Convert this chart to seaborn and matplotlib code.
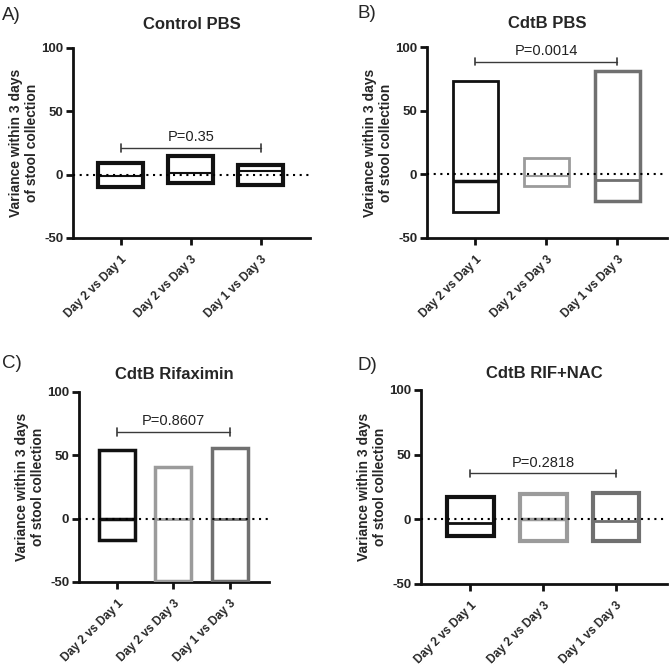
import matplotlib
matplotlib.use("Agg")
import matplotlib.pyplot as plt
import seaborn as sns
import numpy as np
import pandas as pd

sns.set_style("ticks")
plt.rcParams["font.family"] = ["Liberation Sans", "DejaVu Sans"]
plt.rcParams["axes.unicode_minus"] = False

# ---- data ----
comparisons = ["Day 2 vs Day 1", "Day 2 vs Day 3", "Day 1 vs Day 3"]
panel_titles = ["Control PBS", "CdtB PBS", "CdtB Rifaximin", "CdtB RIF+NAC"]
panel_letters = ["A)", "B)", "C)", "D)"]
p_values = ["P=0.35", "P=0.0014", "P=0.8607", "P=0.2818"]
bracket_y = [21, 88.5, 68.5, 35.5]

ctrl_min = [-10, -6.5, -8.5]
ctrl_med = [-1, 1.5, 2.5]
ctrl_max = [9, 15, 8]

pbs_min = [-29.5, -9, -21]
pbs_med = [-5, -1, -4.5]
pbs_max = [73.5, 12.5, 81.5]

rif_min = [-17, -49, -49]
rif_med = [-0.5, 0, 0]
rif_max = [54, 41, 56]

nac_min = [-13, -17, -17]
nac_med = [-2.5, 0, -1]
nac_max = [17, 19.5, 20]

mins = [ctrl_min, pbs_min, rif_min, nac_min]
meds = [ctrl_med, pbs_med, rif_med, nac_med]
maxs = [ctrl_max, pbs_max, rif_max, nac_max]

black, light, mid = "#111111", "#9b9b9b", "#707070"
edge_colors = [[black, black, black], [black, light, mid],
               [black, light, mid], [black, light, mid]]
edge_widths = [[3, 3, 3], [2, 2, 2.5], [2.5, 2.5, 2.5], [3, 3, 3]]
median_widths = [[1.5, 1.5, 1.5], [2.5, 1.5, 2], [2.5, 2, 2], [2, 2.5, 2]]

# axes rectangles in figure fractions (669 px square)
W = 669
rects = [(73 / W, 1 - 238 / W, 237 / W, 190 / W),
         (427 / W, 1 - 238 / W, 240 / W, 191 / W),
         (79 / W, 1 - 582 / W, 190 / W, 190 / W),
         (421 / W, 1 - 584 / W, 246 / W, 194 / W)]
title_pads = [14, 14, 9, 9]
letter_pos = [(2 / W, 1 - 15 / W), (358 / W, 1 - 13 / W),
              (2 / W, 1 - 363 / W), (358 / W, 1 - 366 / W)]

fig = plt.figure(figsize=(6.69, 6.69), dpi=100)

for i in range(4):
    ax = fig.add_axes(rects[i])
    df = pd.DataFrame({"comparison": comparisons,
                       "span": np.array(maxs[i]) - np.array(mins[i]),
                       "low": mins[i]})
    sns.barplot(data=df, x="comparison", y="span", order=comparisons,
                bottom=df["low"].values, width=0.64, color="white",
                errorbar=None, ax=ax)
    for patch, ec, lw in zip(ax.patches, edge_colors[i], edge_widths[i]):
        patch.set_edgecolor(ec)
        patch.set_linewidth(lw)
        patch.set_facecolor("none")
        patch.set_zorder(3)
    pos = np.arange(len(comparisons))
    for x, m, ec, lw in zip(pos, meds[i], edge_colors[i], median_widths[i]):
        ax.hlines(m, x - 0.32, x + 0.32, colors=ec, linewidth=lw, zorder=3)

    ax.axhline(0, color="black", linestyle=(0, (1, 2.2)), linewidth=1.5, zorder=4)

    # significance bracket
    by = bracket_y[i]
    ax.plot([0, 2], [by, by], color="#3a3a3a", linewidth=1, zorder=4)
    ax.plot([0, 0], [by - 3, by + 3], color="#3a3a3a", linewidth=1.2, zorder=4)
    ax.plot([2, 2], [by - 3, by + 3], color="#3a3a3a", linewidth=1.2, zorder=4)
    ax.text(1, by + 3, p_values[i], ha="center", va="bottom", fontsize=10.5,
            color="#222222")

    ax.set_ylim(-50, 100)
    ax.set_xlim(-0.68, 2.7)
    ax.set_yticks([-50, 0, 50, 100])
    ax.set_yticklabels(["-50", "0", "50", "100"], fontweight="bold", fontsize=9.5)
    ax.set_xticks(pos)
    ax.set_xticklabels(comparisons, rotation=45, ha="right",
                       rotation_mode="anchor", fontweight="bold", fontsize=8.5)
    ax.set_xlabel("")
    ax.set_ylabel("Variance within 3 days\nof stool collection",
                  fontweight="bold", fontsize=10, labelpad=1.5)
    ax.set_title(panel_titles[i], fontweight="bold", fontsize=12,
                 pad=title_pads[i])
    sns.despine(ax=ax)
    for side in ["left", "bottom"]:
        ax.spines[side].set_linewidth(2)
        ax.spines[side].set_color("#111111")
    ax.tick_params(axis="both", width=2, length=5, color="#111111", pad=2)
    ax.tick_params(axis="x", pad=6)
    fig.text(letter_pos[i][0], letter_pos[i][1], panel_letters[i],
             fontsize=13.5, va="center", ha="left")

fig.savefig("out.png", dpi=100)
